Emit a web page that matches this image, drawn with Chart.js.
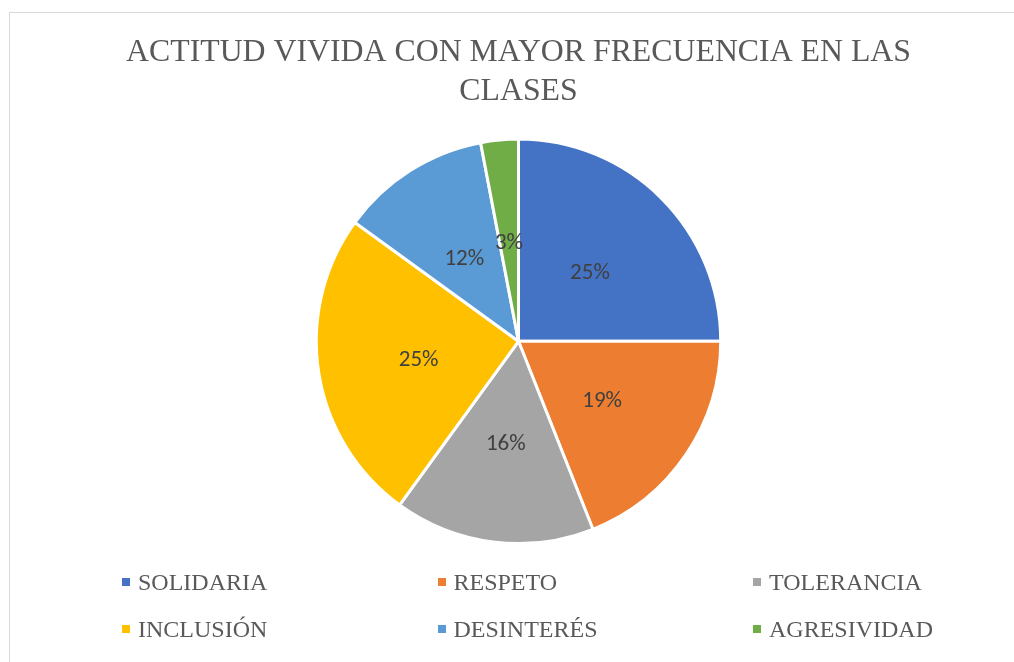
<!DOCTYPE html>
<html>
<head>
<meta charset="utf-8">
<script src="https://cdn.jsdelivr.net/npm/chart.js@4"></script>
<style>
  html, body { margin: 0; padding: 0; background: #fff; }
  #wrap { position: relative; width: 1014px; height: 662px; overflow: hidden; }
  #frame { position: absolute; left: 9px; top: 12px; width: 1100px; height: 700px;
           border-left: 1px solid #d9d9d9; border-top: 1px solid #d9d9d9; }
  #pie { position: absolute; left: 0; top: 0; }
  .leg { position: absolute; font-family: "Liberation Serif", "Times New Roman", serif;
         font-size: 24px; color: #595959; white-space: nowrap; line-height: 28px; }
  .leg i { display: inline-block; width: 8px; height: 8px; margin-right: 8px; vertical-align: 4px; }
</style>
</head>
<body>
<div id="wrap">
  <div id="frame"></div>
  <canvas id="pie" width="1014" height="662"></canvas>
</div>
<script>
// Actitud vivida con mayor frecuencia en las clases
const categories = ["SOLIDARIA", "RESPETO", "TOLERANCIA", "INCLUSIÓN", "DESINTERÉS", "AGRESIVIDAD"];
const percentages = [25, 19, 16, 25, 12, 3];
const sliceColors = ["#4472C4", "#ED7D31", "#A5A5A5", "#FFC000", "#5B9BD5", "#70AD47"];
const titleLines = ["ACTITUD VIVIDA CON MAYOR FRECUENCIA EN LAS", "CLASES"];

// percent labels in the middle of each slice
const sliceLabels = {
  id: "sliceLabels",
  afterDatasetsDraw(chart) {
    const ctx = chart.ctx;
    const meta = chart.getDatasetMeta(0);
    ctx.save();
    ctx.font = "23px Carlito, 'Liberation Sans', sans-serif";
    ctx.fillStyle = "#404040";
    ctx.textAlign = "center";
    ctx.textBaseline = "middle";
    meta.data.forEach((arc, i) => {
      const p = arc.tooltipPosition();
      ctx.fillText(percentages[i] + "%", p.x, p.y + 3);
    });
    ctx.restore();
  },
};

const chart = new Chart(document.getElementById("pie"), {
  type: "pie",
  data: {
    labels: categories,
    datasets: [
      {
        data: percentages,
        backgroundColor: sliceColors,
        borderColor: "#ffffff",
        borderWidth: 3,
      },
    ],
  },
  options: {
    responsive: false,
    animation: false,
    layout: { padding: { top: 33, bottom: 117, left: 23, right: 0 } },
    plugins: {
      legend: { display: false },
      tooltip: { enabled: false },
      title: {
        display: true,
        text: titleLines,
        color: "#595959",
        font: { family: "'Liberation Serif', 'Times New Roman', serif", size: 31.8, weight: "normal", lineHeight: 1.22 },
        padding: { top: 0, bottom: 27 },
      },
    },
  },
  plugins: [sliceLabels],
});

// legend, 3 columns x 2 rows
const wrap = document.getElementById("wrap");
categories.forEach((name, i) => {
  const el = document.createElement("div");
  el.className = "leg";
  el.style.left = (122 + (i % 3) * 315.5) + "px";
  el.style.top = (568 + Math.floor(i / 3) * 47) + "px";
  el.innerHTML = '<i style="background:' + sliceColors[i] + '"></i>' + name;
  wrap.appendChild(el);
});
</script>
</body>
</html>
